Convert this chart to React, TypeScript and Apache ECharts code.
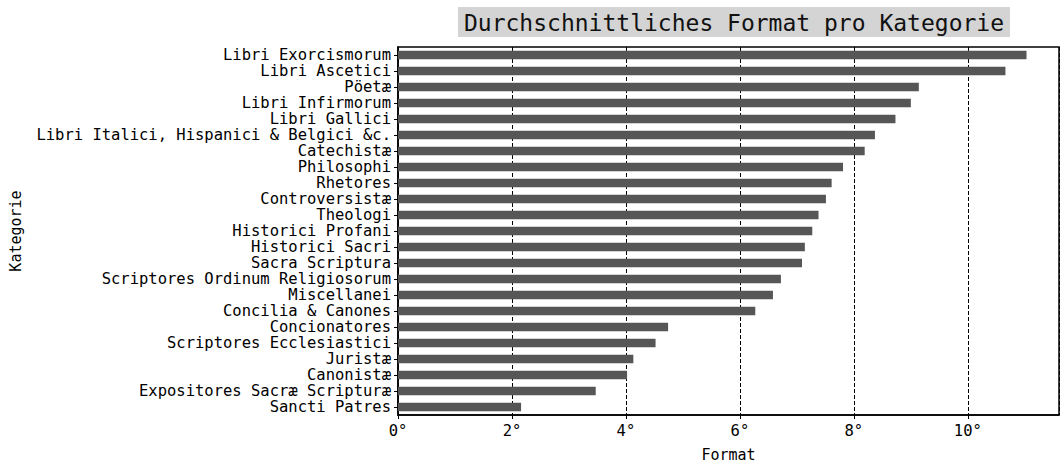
import React, { useEffect, useRef } from "react";
import * as echarts from "echarts";

const categories = [
  "Libri Exorcismorum",
  "Libri Ascetici",
  "Pöetæ",
  "Libri Infirmorum",
  "Libri Gallici",
  "Libri Italici, Hispanici & Belgici &c.",
  "Catechistæ",
  "Philosophi",
  "Rhetores",
  "Controversistæ",
  "Theologi",
  "Historici Profani",
  "Historici Sacri",
  "Sacra Scriptura",
  "Scriptores Ordinum Religiosorum",
  "Miscellanei",
  "Concilia & Canones",
  "Concionatores",
  "Scriptores Ecclesiastici",
  "Juristæ",
  "Canonistæ",
  "Expositores Sacræ Scripturæ",
  "Sancti Patres",
];

const formatValues = [
  11.03, 10.66, 9.14, 9.0, 8.73, 8.37, 8.19, 7.81, 7.61, 7.51, 7.38, 7.27,
  7.14, 7.09, 6.72, 6.58, 6.27, 4.74, 4.52, 4.13, 4.02, 3.47, 2.16,
];

const xTicks = [0, 2, 4, 6, 8, 10];

const MONO = "'DejaVu Sans Mono', monospace";

export default function App() {
  const ref = useRef<HTMLDivElement>(null);
  useEffect(() => {
    if (!ref.current) return;
    const chart = echarts.init(ref.current, undefined, {
      renderer: "svg",
      width: 1063,
      height: 467,
    });
    chart.setOption({
      animation: false,
      backgroundColor: "#ffffff",
      title: {
        text: "Durchschnittliches Format pro Kategorie",
        left: 728,
        top: 7,
        textAlign: "center",
        backgroundColor: "#d4d4d4",
        padding: [4, 6, 3, 6],
        textStyle: {
          fontFamily: MONO,
          fontSize: 23,
          fontWeight: "normal",
          color: "#111",
        },
      },
      grid: {
        left: 397,
        width: 662,
        top: 47,
        height: 377,
        show: true,
        borderColor: "#000",
        borderWidth: 1.5,
        containLabel: false,
      },
      xAxis: {
        type: "value",
        min: 0,
        max: 11.6,
        interval: 2,
        name: "Format",
        nameLocation: "middle",
        nameGap: 32,
        nameTextStyle: { fontFamily: MONO, fontSize: 15, color: "#000" },
        axisLine: { show: true, lineStyle: { color: "#000", width: 1.5 } },
        axisTick: { show: true, length: 4, lineStyle: { color: "#000" } },
        axisLabel: {
          fontFamily: MONO,
          fontSize: 15.5,
          color: "#000",
          margin: 8,
          showMaxLabel: false,
          formatter: (v: number) => (xTicks.includes(v) ? `${v}°` : ""),
        },
        splitLine: {
          show: true,
          lineStyle: { color: "#000", type: [4, 2], width: 1 },
        },
      },
      yAxis: {
        type: "category",
        data: categories,
        inverse: true,
        name: "Kategorie",
        nameLocation: "middle",
        nameRotate: 90,
        nameGap: 375,
        nameTextStyle: { fontFamily: MONO, fontSize: 15, color: "#000" },
        axisLine: { show: true, lineStyle: { color: "#000", width: 1.5 } },
        axisTick: {
          show: true,
          alignWithLabel: true,
          length: 4,
          lineStyle: { color: "#000" },
        },
        axisLabel: {
          fontFamily: MONO,
          fontSize: 15.5,
          lineHeight: 16,
          color: "#000",
          margin: 7,
          interval: 0,
        },
        splitLine: { show: false },
      },
      series: [
        {
          type: "bar",
          data: formatValues,
          barWidth: "53%",
          itemStyle: { color: "#565656" },
        },
      ],
    });
    return () => chart.dispose();
  }, []);
  return (
    <div
      ref={ref}
      style={{ position: "fixed", left: 0, top: 0, width: 1063, height: 467 }}
    />
  );
}
